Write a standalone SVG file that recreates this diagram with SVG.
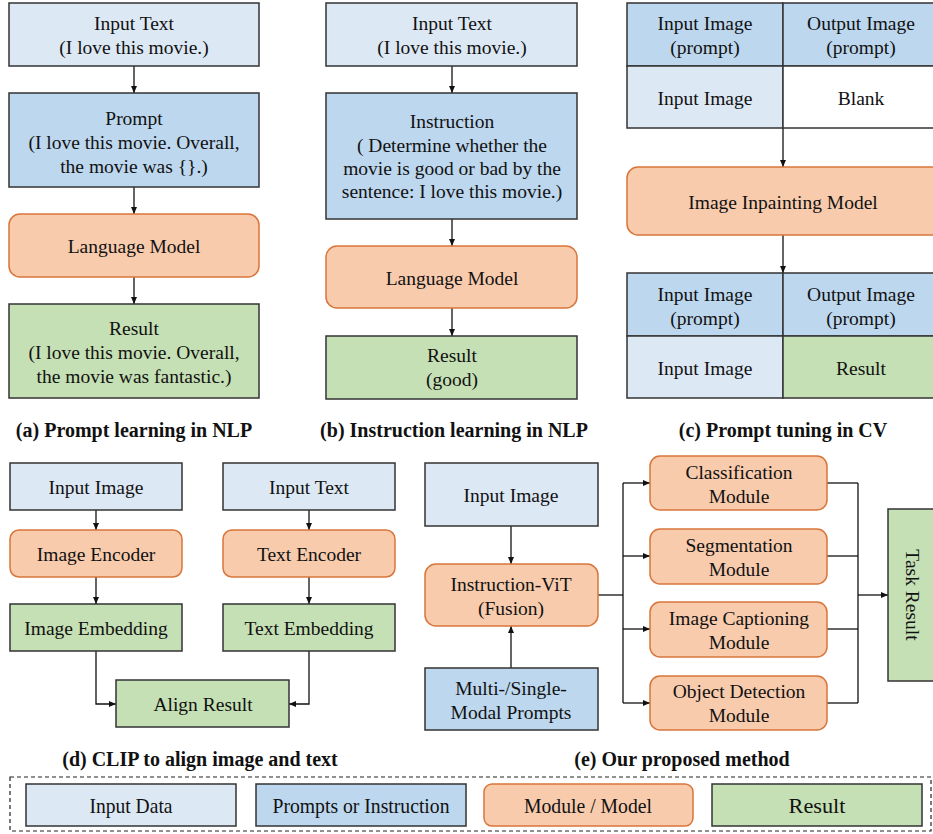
<svg xmlns="http://www.w3.org/2000/svg" width="933" height="834" viewBox="0 0 933 834" font-family="'Liberation Serif', 'DejaVu Serif', serif">
<style>
text{font-family:'Liberation Serif','DejaVu Serif',serif;font-size:19.5px;fill:#111;text-anchor:middle}
.cap{font-weight:bold;font-size:20px}
.in{fill:#dde8f5;stroke:#333;stroke-width:1.5}
.pr{fill:#bdd7ee;stroke:#333;stroke-width:1.5}
.md{fill:#f8cbad;stroke:#d9753a;stroke-width:1.5}
.rs{fill:#c5e0b4;stroke:#333;stroke-width:1.5}
.wh{fill:#fff;stroke:#333;stroke-width:1.5}
.c line,.c path{stroke:#111;stroke-width:1.3;fill:none}
.c .a{marker-end:url(#ah)}
.lg{font-size:21px}
</style>
<defs>
<marker id="ah" markerWidth="8" markerHeight="8" refX="7" refY="4" orient="auto" markerUnits="userSpaceOnUse">
<path d="M0,1 L7,4 L0,7 z" fill="#111"/>
</marker>
</defs>

<!-- connectors -->
<g id="connectors" class="c">
<line class="a" x1="134" y1="66" x2="134" y2="93"/>
<line class="a" x1="134" y1="187" x2="134" y2="214"/>
<line class="a" x1="134" y1="277" x2="134" y2="304"/>
<line class="a" x1="452" y1="66" x2="452" y2="93"/>
<line class="a" x1="452" y1="219" x2="452" y2="246"/>
<line class="a" x1="452" y1="308" x2="452" y2="336"/>
<line class="a" x1="783" y1="128" x2="783" y2="167"/>
<line class="a" x1="783" y1="235" x2="783" y2="273"/>
<line class="a" x1="96" y1="510" x2="96" y2="530"/>
<line class="a" x1="96" y1="577" x2="96" y2="604"/>
<line class="a" x1="309" y1="510" x2="309" y2="530"/>
<line class="a" x1="309" y1="577" x2="309" y2="604"/>
<path class="a" d="M96,651 V704 H116"/>
<path class="a" d="M309,651 V704 H289"/>
<line class="a" x1="511" y1="526" x2="511" y2="564"/>
<line class="a" x1="511" y1="668" x2="511" y2="626"/>
<line x1="598" y1="595" x2="623" y2="595"/>
<line x1="623" y1="483" x2="623" y2="703"/>
<line class="a" x1="623" y1="483" x2="650" y2="483"/>
<line class="a" x1="623" y1="556" x2="650" y2="556"/>
<line class="a" x1="623" y1="629" x2="650" y2="629"/>
<line class="a" x1="623" y1="703" x2="650" y2="703"/>
<line x1="827" y1="483" x2="858" y2="483"/>
<line x1="827" y1="556" x2="858" y2="556"/>
<line x1="827" y1="629" x2="858" y2="629"/>
<line x1="827" y1="703" x2="858" y2="703"/>
<line x1="858" y1="483" x2="858" y2="703"/>
<line class="a" x1="858" y1="595" x2="888" y2="595"/>
</g>

<!-- (a) -->
<g id="a-input"><rect class="in" x="9" y="3" width="250" height="63"/><text x="134" y="30">Input Text</text><text x="134" y="54">(I love this movie.)</text></g>
<g id="a-prompt"><rect class="pr" x="9" y="93" width="250" height="94"/><text x="134" y="125">Prompt</text><text x="134" y="149">(I love this movie. Overall,</text><text x="134" y="173">the movie was {}.)</text></g>
<g id="a-lm"><rect class="md" x="9" y="214" width="250" height="63" rx="11"/><text x="134" y="253">Language Model</text></g>
<g id="a-result"><rect class="rs" x="9" y="304" width="250" height="94"/><text x="134" y="335">Result</text><text x="134" y="359">(I love this movie. Overall,</text><text x="134" y="383">the movie was fantastic.)</text></g>
<text class="cap" x="134" y="437">(a) Prompt learning in NLP</text>

<!-- (b) -->
<g id="b-input"><rect class="in" x="326" y="3" width="251" height="63"/><text x="452" y="30">Input Text</text><text x="452" y="54">(I love this movie.)</text></g>
<g id="b-instr"><rect class="pr" x="326" y="93" width="251" height="126"/><text x="452" y="128">Instruction</text><text x="452" y="152">( Determine whether the</text><text x="452" y="175">movie is good or bad by the</text><text x="452" y="198">sentence: I love this movie.)</text></g>
<g id="b-lm"><rect class="md" x="326" y="246" width="251" height="62" rx="11"/><text x="452" y="285">Language Model</text></g>
<g id="b-result"><rect class="rs" x="326" y="336" width="251" height="63"/><text x="452" y="362">Result</text><text x="452" y="386">(good)</text></g>
<text class="cap" x="454" y="437">(b) Instruction learning in NLP</text>

<!-- (c) -->
<g id="c-top">
<rect class="pr" x="627" y="3" width="156" height="63"/><rect class="pr" x="783" y="3" width="160" height="63"/>
<rect class="in" x="627" y="66" width="156" height="62"/><rect class="wh" x="783" y="66" width="160" height="62"/>
<text x="705" y="30">Input Image</text><text x="705" y="54">(prompt)</text>
<text x="861" y="30">Output Image</text><text x="861" y="54">(prompt)</text>
<text x="705" y="105">Input Image</text><text x="861" y="105">Blank</text>
</g>
<g id="c-model"><rect class="md" x="627" y="167" width="316" height="68" rx="11"/><text x="783" y="209">Image Inpainting Model</text></g>
<g id="c-bottom">
<rect class="pr" x="627" y="273" width="156" height="63"/><rect class="pr" x="783" y="273" width="160" height="63"/>
<rect class="in" x="627" y="336" width="156" height="62"/><rect class="rs" x="783" y="336" width="160" height="62"/>
<text x="705" y="301">Input Image</text><text x="705" y="325">(prompt)</text>
<text x="861" y="301">Output Image</text><text x="861" y="325">(prompt)</text>
<text x="705" y="375">Input Image</text><text x="861" y="375">Result</text>
</g>
<text class="cap" x="783" y="437">(c) Prompt tuning in CV</text>

<!-- (d) -->
<g id="d-img"><rect class="in" x="10" y="463" width="172" height="47"/><text x="96" y="494">Input Image</text></g>
<g id="d-imgenc"><rect class="md" x="10" y="530" width="172" height="47" rx="9"/><text x="96" y="561">Image Encoder</text></g>
<g id="d-imgemb"><rect class="rs" x="10" y="604" width="172" height="47"/><text x="96" y="635">Image Embedding</text></g>
<g id="d-txt"><rect class="in" x="223" y="463" width="172" height="47"/><text x="309" y="494">Input Text</text></g>
<g id="d-txtenc"><rect class="md" x="223" y="530" width="172" height="47" rx="9"/><text x="309" y="561">Text Encoder</text></g>
<g id="d-txtemb"><rect class="rs" x="223" y="604" width="172" height="47"/><text x="309" y="635">Text Embedding</text></g>
<g id="d-align"><rect class="rs" x="116" y="680" width="173" height="47"/><text x="203" y="711">Align Result</text></g>
<text class="cap" x="200" y="766">(d) CLIP to align image and text</text>

<!-- (e) -->
<g id="e-img"><rect class="in" x="425" y="463" width="173" height="63"/><text x="511" y="502">Input Image</text></g>
<g id="e-vit"><rect class="md" x="425" y="564" width="173" height="62" rx="11"/><text x="511" y="591">Instruction-ViT</text><text x="511" y="615">(Fusion)</text></g>
<g id="e-prompts"><rect class="pr" x="425" y="668" width="173" height="62"/><text x="511" y="695">Multi-/Single-</text><text x="511" y="719">Modal Prompts</text></g>
<g id="e-cls"><rect class="md" x="650" y="456" width="177" height="54" rx="10"/><text x="739" y="479">Classification</text><text x="739" y="503">Module</text></g>
<g id="e-seg"><rect class="md" x="650" y="529" width="177" height="55" rx="10"/><text x="739" y="552">Segmentation</text><text x="739" y="576">Module</text></g>
<g id="e-cap"><rect class="md" x="650" y="602" width="177" height="55" rx="10"/><text x="739" y="625">Image Captioning</text><text x="739" y="649">Module</text></g>
<g id="e-det"><rect class="md" x="650" y="676" width="177" height="54" rx="10"/><text x="739" y="698">Object Detection</text><text x="739" y="722">Module</text></g>
<g id="e-task"><rect class="rs" x="888" y="509" width="60" height="172"/><text x="913" y="595" transform="rotate(90 913 595)" dy="7">Task Result</text></g>
<text class="cap" x="682" y="766">(e) Our proposed method</text>

<!-- legend -->
<g id="legend">
<rect x="10" y="777" width="921" height="54" fill="none" stroke="#222" stroke-width="1.2" stroke-dasharray="4,3"/>
<rect class="in" x="26" y="784" width="210" height="42"/><text class="lg" x="131" y="813" textLength="83" lengthAdjust="spacingAndGlyphs">Input Data</text>
<rect class="pr" x="256" y="784" width="210" height="42"/><text class="lg" x="361" y="813" textLength="177" lengthAdjust="spacingAndGlyphs">Prompts or Instruction</text>
<rect class="md" x="484" y="784" width="209" height="42" rx="8"/><text class="lg" x="588" y="813" textLength="128" lengthAdjust="spacingAndGlyphs">Module / Model</text>
<rect class="rs" x="712" y="784" width="210" height="42"/><text class="lg" x="817" y="813" textLength="57" lengthAdjust="spacingAndGlyphs">Result</text>
</g>
</svg>
